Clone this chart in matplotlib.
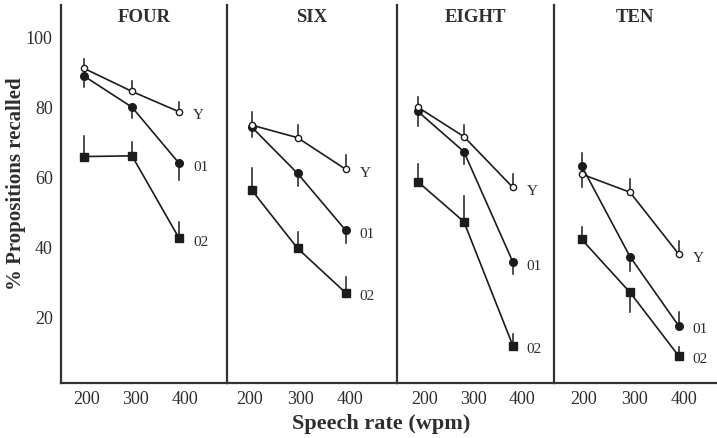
import matplotlib
matplotlib.use("Agg")
import matplotlib.pyplot as plt

plt.rcParams['font.family'] = ['Liberation Serif', 'DejaVu Serif']

# panel titles and speech rates
panels = ["FOUR", "SIX", "EIGHT", "TEN"]
rates = [200, 300, 400]
# where the points actually sit on each panel (a bit off the nominal rate)
rate_x = [[194, 292, 388], [203, 295, 391], [185, 280, 381], [195, 292, 389]]

# % propositions recalled, one row per panel
young = [[91.3, 84.7, 78.9], [75.1, 71.5, 62.5], [80.2, 71.8, 57.3], [61.1, 55.9, 38.3]]
old1 = [[89.1, 80.2, 64.2], [74.6, 61.3, 45.1], [79.0, 67.5, 36.0], [63.5, 37.5, 17.8]]
old2 = [[66.1, 66.3, 42.8], [56.6, 39.9, 27.2], [58.9, 47.5, 12.1], [42.5, 27.3, 9.2]]

# one-sided error bars: + drawn upward, - drawn downward
young_err = [[2.6, 3.1, 2.9], [3.8, 3.6, 4.1], [3.0, 3.3, 3.8], [-3.6, 3.8, 3.8]]
old1_err = [[-3.2, -3.1, -4.8], [-2.9, -3.6, -3.8], [-4.3, -3.5, -3.4], [3.7, -4.0, 3.8]]
old2_err = [[5.9, 4.1, 4.5], [6.2, 4.7, 4.4], [5.0, 7.3, 3.3], [3.4, -5.5, 2.6]]

series_names = ["Y", "01", "02"]
yticks = [20, 40, 60, 80, 100]

W, H = 717, 438
fig = plt.figure(figsize=(W / 100, H / 100), dpi=100)

# panel edges in pixels and x-limits so the tick labels land where they do
edges = [61, 227, 397, 554, 717]
xlims = [(147, 486), (154, 494), (142, 466), (140, 466)]
ax_bottom, ax_top = 383, 5

ink = "#1c1c1c"
txt = "#2e2e2e"

axes = []
for i in range(4):
    rect = [edges[i] / W, 1 - ax_bottom / H,
            (edges[i + 1] - edges[i]) / W, (ax_bottom - ax_top) / H]
    ax = fig.add_axes(rect)
    axes.append(ax)

    ax.set_xlim(*xlims[i])
    ax.set_ylim(1.4, 109.4)
    ax.set_xticks(rates)
    ax.set_xticklabels([str(r) for r in rates])
    ax.set_yticks(yticks)
    ax.tick_params(length=0, labelsize=13, colors=txt, pad=6)
    if i > 0:
        ax.tick_params(labelleft=False)
    for s in ["top", "right"]:
        ax.spines[s].set_visible(False)
    for s in ["left", "bottom"]:
        ax.spines[s].set_color("#333333")
        ax.spines[s].set_linewidth(1.6)

    ax.set_title(panels[i], fontsize=13.5, fontweight="bold", color=txt, y=0.968, va="top")

    data = [(old1[i], old1_err[i], "o", ink, 5.5),
            (old2[i], old2_err[i], "s", ink, 5.5),
            (young[i], young_err[i], "o", "white", 4.5)]
    for vals, errs, mk, face, ms in data:
        for x, v, e in zip(rate_x[i], vals, errs):
            ax.plot([x, x], [v, v + e], color=ink, lw=1.1, zorder=2)
        ax.plot(rate_x[i], vals, color=ink, lw=1.2, marker=mk, ms=ms,
                mfc=face, mec=ink, mew=1.0, zorder=3)

    # series labels to the right of the last point
    for name, vals in zip(series_names, [young[i], old1[i], old2[i]]):
        ax.annotate(name, (rate_x[i][-1], vals[-1]), xytext=(10, -3),
                    textcoords="offset points", ha="left", va="center",
                    fontsize=11, color=txt)

fig.text(16 / W, 1 - 184 / H, "% Propositions recalled", rotation=90, ha="center",
         va="center", fontsize=15, fontweight="bold", color=txt)
fig.text(381 / W, 1 - 424 / H, "Speech rate (wpm)", ha="center",
         va="center", fontsize=16, fontweight="bold", color=txt)

fig.savefig("out.png", dpi=100)
